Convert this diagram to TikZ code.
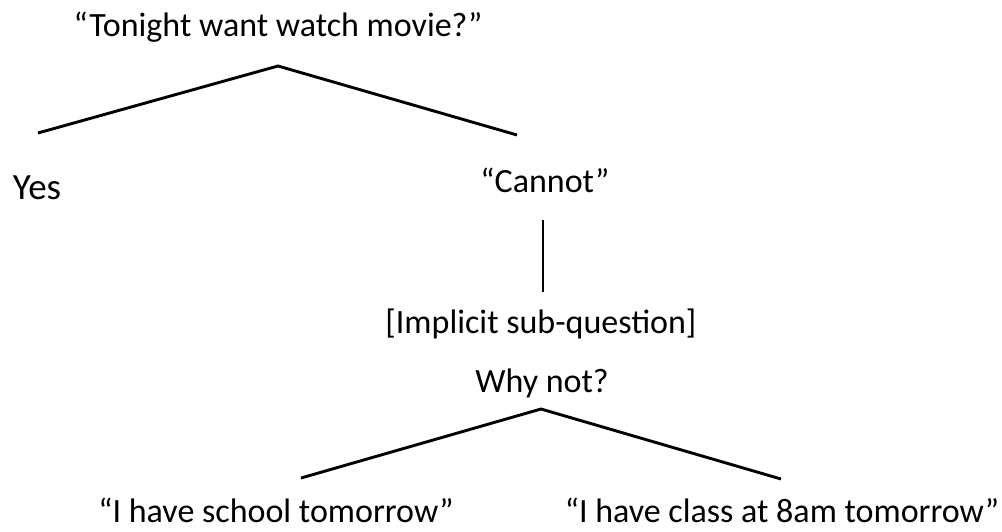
\documentclass[tikz,border=0pt]{standalone}
\usepackage{fontspec}
\setmainfont{Carlito}
\usetikzlibrary{positioning}

\begin{document}
\begin{tikzpicture}[x=1pt, y=-1pt, txt/.style={inner sep=0pt, anchor=base, font=\fontsize{34}{38}\selectfont}, branch/.style={draw, line width=2.9pt}]
		\useasboundingbox (0,0) rectangle (1002,531);
		\node[txt] (Q) at (278,36) {“Tonight want watch movie?”};
		\node[txt, font=\fontsize{37}{42}\selectfont] (yes) at (37,199) {Yes};
		\node[txt] (cannot) at (545,192) {“Cannot”};
		\node[txt] (sub) at (541,333) {[Implicit sub-question]};
		\node[txt] (why) at (542,392) {Why not?};
		\node[txt] (school) at (276,522) {“I have school tomorrow”};
		\node[txt] (class) at (782,522) {“I have class at 8am tomorrow”};
		% forks
		\coordinate (Qfork) at (278,66);
		\coordinate (yesTop) at (38,133);
		\coordinate (cannotTop) at (517,135);
		\coordinate (cannotBot) at (543,220);
		\coordinate (subTop) at (543,292);
		\coordinate (whyFork) at (541,409);
		\coordinate (schoolTop) at (301,478);
		\coordinate (classTop) at (781,479);
		\draw[branch] (yesTop) -- (Qfork) -- (cannotTop);
		\draw[branch] (cannotBot) -- (subTop);
		\draw[branch] (schoolTop) -- (whyFork) -- (classTop);
	\end{tikzpicture}
\end{document}
